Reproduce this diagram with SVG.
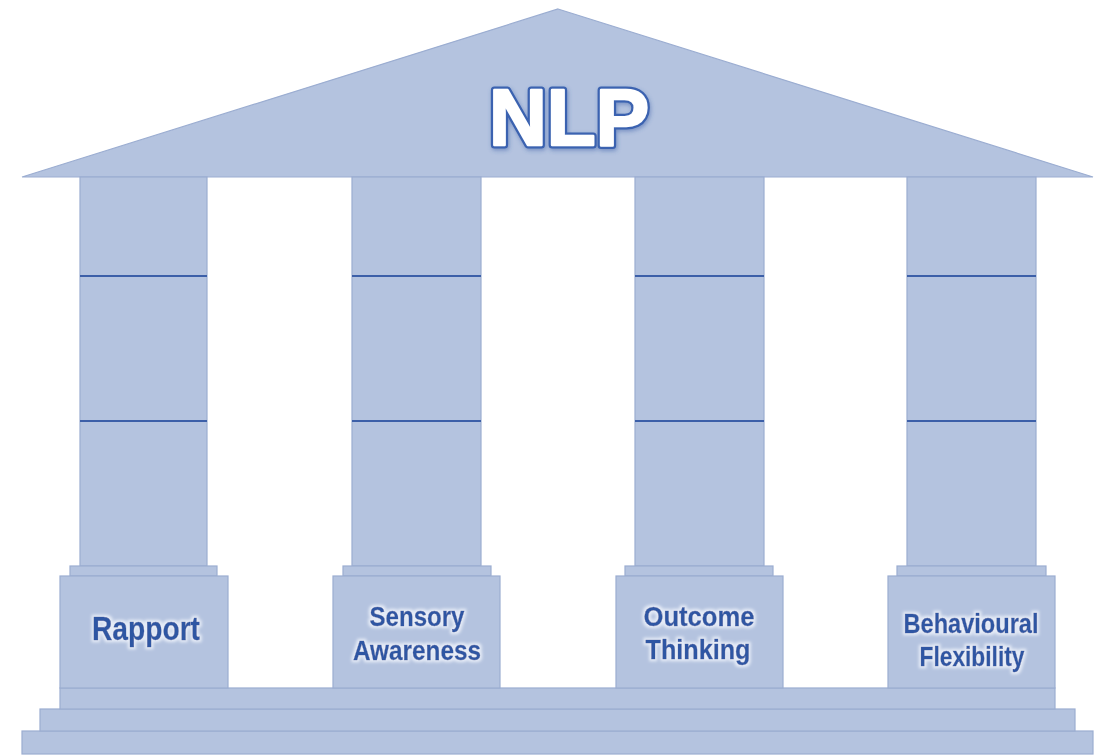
<svg xmlns="http://www.w3.org/2000/svg" width="1099" height="756" viewBox="0 0 1099 756">
<defs>
<filter id="glow" x="-20%" y="-40%" width="140%" height="180%">
<feMorphology in="SourceAlpha" operator="dilate" radius="1.5" result="d"/>
<feGaussianBlur in="d" stdDeviation="1.5" result="b"/>
<feFlood flood-color="#e6ecf7"/>
<feComposite in2="b" operator="in" result="g"/>
<feMerge><feMergeNode in="g"/><feMergeNode in="SourceGraphic"/></feMerge>
</filter>
<filter id="nlpshadow" x="-20%" y="-30%" width="140%" height="160%">
<feGaussianBlur in="SourceAlpha" stdDeviation="2" result="b"/>
<feOffset in="b" dx="1" dy="2" result="o"/>
<feFlood flood-color="#3a5ea8" flood-opacity="0.5"/>
<feComposite in2="o" operator="in" result="s"/>
<feMerge><feMergeNode in="s"/><feMergeNode in="SourceGraphic"/></feMerge>
</filter>
</defs>
<style>
.stone{fill:#b4c3df;stroke:#9badd1;stroke-width:1.2}
.div{stroke:#3c5fa8;stroke-width:2}
.lbl{font-family:"Liberation Sans",Arial,sans-serif;font-weight:bold;fill:#2f56a3;text-anchor:middle;stroke:#2f56a3;stroke-width:0.4}
.nlp{font-family:"Liberation Sans",Arial,sans-serif;font-weight:bold;font-size:80px;text-anchor:middle}
</style>
<rect width="1099" height="756" fill="#ffffff"/>

<g id="steps">
<rect class="stone" x="22" y="731" width="1071" height="23"/>
<rect class="stone" x="40" y="709" width="1035" height="22"/>
<rect class="stone" x="60" y="688" width="995" height="21"/>
</g>

<g id="roof">
<polygon class="stone" points="558,9 1093,177 22,177"/>
<g filter="url(#nlpshadow)">
<text class="nlp" x="569" y="145" fill="#3a62b0" stroke="#3a62b0" stroke-width="7" stroke-linejoin="round">NLP</text>
<text class="nlp" x="569" y="145" fill="#ffffff" stroke="#ffffff" stroke-width="2.5" stroke-linejoin="round">NLP</text>
</g>
</g>

<g id="pillar-rapport">
<rect class="stone" x="80" y="177" width="127" height="389"/>
<line class="div" x1="80" y1="276" x2="207" y2="276"/>
<line class="div" x1="80" y1="421" x2="207" y2="421"/>
<rect class="stone" x="70" y="566" width="147" height="10"/>
<rect class="stone" x="60" y="576" width="168" height="112"/>
<text class="lbl" x="146" y="640" font-size="34" textLength="108" lengthAdjust="spacingAndGlyphs" filter="url(#glow)">Rapport</text>
</g>

<g id="pillar-sensory">
<rect class="stone" x="352" y="177" width="129" height="389"/>
<line class="div" x1="352" y1="276" x2="481" y2="276"/>
<line class="div" x1="352" y1="421" x2="481" y2="421"/>
<rect class="stone" x="343" y="566" width="148" height="10"/>
<rect class="stone" x="333" y="576" width="167" height="112"/>
<g filter="url(#glow)">
<text class="lbl" x="417" y="626" font-size="28" textLength="95" lengthAdjust="spacingAndGlyphs">Sensory</text>
<text class="lbl" x="417" y="660" font-size="28" textLength="128" lengthAdjust="spacingAndGlyphs">Awareness</text>
</g>
</g>

<g id="pillar-outcome">
<rect class="stone" x="635" y="177" width="129" height="389"/>
<line class="div" x1="635" y1="276" x2="764" y2="276"/>
<line class="div" x1="635" y1="421" x2="764" y2="421"/>
<rect class="stone" x="625" y="566" width="148" height="10"/>
<rect class="stone" x="616" y="576" width="167" height="112"/>
<g filter="url(#glow)">
<text class="lbl" x="699" y="626" font-size="28" textLength="111" lengthAdjust="spacingAndGlyphs">Outcome</text>
<text class="lbl" x="698" y="659" font-size="28" textLength="105" lengthAdjust="spacingAndGlyphs">Thinking</text>
</g>
</g>

<g id="pillar-behavioural">
<rect class="stone" x="907" y="177" width="129" height="389"/>
<line class="div" x1="907" y1="276" x2="1036" y2="276"/>
<line class="div" x1="907" y1="421" x2="1036" y2="421"/>
<rect class="stone" x="897" y="566" width="149" height="10"/>
<rect class="stone" x="888" y="576" width="167" height="112"/>
<g filter="url(#glow)">
<text class="lbl" x="971" y="633" font-size="28" textLength="135" lengthAdjust="spacingAndGlyphs">Behavioural</text>
<text class="lbl" x="972" y="666" font-size="28" textLength="105" lengthAdjust="spacingAndGlyphs">Flexibility</text>
</g>
</g>

<g id="connectors"></g>
</svg>
